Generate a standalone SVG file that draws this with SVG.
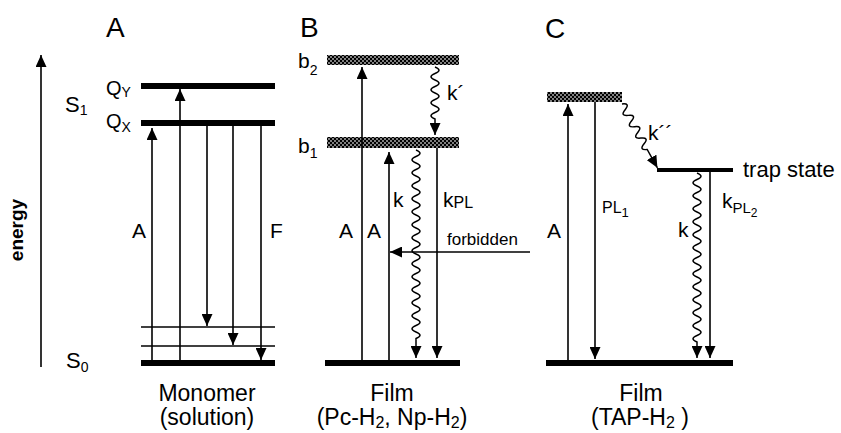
<svg xmlns="http://www.w3.org/2000/svg" width="841" height="433" viewBox="0 0 841 433">
<style>
text{font-family:"Liberation Sans",Arial,sans-serif;fill:#000}
.title{font-size:28px}
.lbl{font-size:21px}
.sub{font-size:14px}
.bot{font-size:23px;text-anchor:middle}
.lvl{stroke:#000;stroke-width:6;fill:none}
.thin{stroke:#000;stroke-width:1.6;fill:none}
.arr{stroke:#000;stroke-width:1.6;fill:none;marker-end:url(#ah)}
.wave{stroke:#000;stroke-width:1.5;fill:none;marker-end:url(#ah)}
</style>
<defs>
<pattern id="hatch" width="4" height="4" patternUnits="userSpaceOnUse">
<rect width="4" height="4" fill="#808080"/>
<rect width="2" height="2" fill="#000"/>
<rect x="2" y="2" width="2" height="2" fill="#000"/>
</pattern>
<marker id="ah" viewBox="0 0 12 11" refX="12" refY="5.5" markerWidth="12" markerHeight="11" markerUnits="userSpaceOnUse" orient="auto">
<path d="M0,0 L12,5.5 L0,11 z" fill="#000"/>
</marker>
</defs>
<rect width="841" height="433" fill="#fff"/>

<g id="titles">
<text class="title" x="106" y="37">A</text>
<text class="title" x="300" y="37">B</text>
<text class="title" x="545" y="38">C</text>
</g>

<g id="energy-axis">
<line class="arr" x1="41" y1="367" x2="41" y2="55"/>
<text transform="translate(23,230) rotate(-90)" text-anchor="middle" font-weight="bold" font-size="19">energy</text>
</g>

<g id="panelA-levels">
<line class="lvl" x1="141" y1="86" x2="275" y2="86"/>
<line class="lvl" x1="141" y1="123" x2="275" y2="123"/>
<line class="thin" x1="141" y1="327" x2="275" y2="327"/>
<line class="thin" x1="141" y1="346" x2="275" y2="346"/>
<line class="lvl" x1="141" y1="363" x2="275" y2="363"/>
<text x="65" y="112" font-size="22">S<tspan class="sub" dy="3">1</tspan></text>
<text x="106" y="95" font-size="20">Q<tspan class="sub" dy="2">Y</tspan></text>
<text x="106" y="128" font-size="20">Q<tspan class="sub" dy="4">X</tspan></text>
<text x="66" y="368" font-size="22">S<tspan class="sub" dy="4">0</tspan></text>
<text class="bot" x="207" y="401">Monomer</text>
<text class="bot" x="207" y="425">(solution)</text>
</g>

<g id="panelB-levels">
<rect x="327" y="55" width="132" height="10" fill="url(#hatch)"/>
<rect x="327" y="137" width="132" height="11" fill="url(#hatch)"/>
<line class="lvl" x1="325" y1="363" x2="460" y2="363"/>
<text x="298" y="68" font-size="21">b<tspan class="sub" dy="7">2</tspan></text>
<text x="298" y="153" font-size="21">b<tspan class="sub" dy="5">1</tspan></text>
<text class="bot" x="392" y="401">Film</text>
<text class="bot" x="392" y="425">(Pc-H<tspan font-size="16" dy="3">2</tspan><tspan dy="-3">, Np-H</tspan><tspan font-size="16" dy="3">2</tspan><tspan dy="-3">)</tspan></text>
</g>

<g id="panelC-levels">
<rect x="547" y="92" width="75" height="10" fill="url(#hatch)"/>
<line stroke="#000" stroke-width="4" x1="657" y1="170" x2="733" y2="170"/>
<line class="lvl" x1="546" y1="363" x2="733" y2="363"/>
<text x="743" y="177" font-size="22">trap state</text>
<text class="bot" x="641" y="401">Film</text>
<text class="bot" x="640" y="425">(TAP-H<tspan font-size="16" dy="3">2</tspan><tspan dy="-3"> )</tspan></text>
</g>

<g id="connectors">
<line class="arr" x1="152" y1="363" x2="152" y2="128"/>
<line class="arr" x1="180" y1="363" x2="180" y2="89"/>
<line class="arr" x1="207" y1="123" x2="207" y2="326"/>
<line class="arr" x1="233" y1="123" x2="233" y2="345"/>
<line class="arr" x1="261" y1="123" x2="261" y2="360"/>
<text class="lbl" x="132" y="238">A</text>
<text class="lbl" x="270" y="238">F</text>
<line class="arr" x1="362" y1="363" x2="362" y2="67"/>
<line class="arr" x1="389" y1="363" x2="389" y2="152"/>
<path class="wave" d="M435,67 q8,3.25 0,6.5 t0,6.5 t0,6.5 t0,6.5 t0,6.5 t0,6.5 t0,6.5 t0,6.5 L435,135"/>
<path class="wave" d="M416,150 q8,3.25 0,6.5 t0,6.5 t0,6.5 t0,6.5 t0,6.5 t0,6.5 t0,6.5 t0,6.5 t0,6.5 t0,6.5 t0,6.5 t0,6.5 t0,6.5 t0,6.5 t0,6.5 t0,6.5 t0,6.5 t0,6.5 t0,6.5 t0,6.5 t0,6.5 t0,6.5 t0,6.5 t0,6.5 t0,6.5 t0,6.5 t0,6.5 t0,6.5 t0,6.5 L416,358"/>
<line class="arr" x1="437" y1="148" x2="437" y2="358"/>
<line class="arr" x1="530" y1="252" x2="390" y2="252"/>
<text class="lbl" x="447" y="100">k´</text>
<text class="lbl" x="393" y="207">k</text>
<text class="lbl" x="443" y="207">k<tspan font-size="16" dy="1">PL</tspan></text>
<text class="lbl" x="339" y="238">A</text>
<text class="lbl" x="367" y="238">A</text>
<text x="447" y="245" font-size="17">forbidden</text>
<line class="arr" x1="568" y1="363" x2="568" y2="104"/>
<line class="arr" x1="595" y1="102" x2="595" y2="359"/>
<path class="wave" transform="translate(622,104) rotate(-29)" d="M0,0 q8,3.25 0,6.5 t0,6.5 t0,6.5 t0,6.5 t0,6.5 t0,6.5 t0,6.5 t0,6.5 L0,73"/>
<path class="wave" d="M697,173 q8,3.25 0,6.5 t0,6.5 t0,6.5 t0,6.5 t0,6.5 t0,6.5 t0,6.5 t0,6.5 t0,6.5 t0,6.5 t0,6.5 t0,6.5 t0,6.5 t0,6.5 t0,6.5 t0,6.5 t0,6.5 t0,6.5 t0,6.5 t0,6.5 t0,6.5 t0,6.5 t0,6.5 t0,6.5 t0,6.5 t0,6.5 L697,358"/>
<line class="arr" x1="710" y1="172" x2="710" y2="358"/>
<text class="lbl" x="648" y="140">k´´</text>
<text class="lbl" x="547" y="238">A</text>
<text class="lbl" x="678" y="237">k</text>
<text x="602" y="213" font-size="16">PL<tspan font-size="13" dy="4">1</tspan></text>
<text class="lbl" x="722" y="208">k<tspan font-size="15" dy="5">PL</tspan><tspan font-size="12" dy="4">2</tspan></text>
</g>
</svg>
